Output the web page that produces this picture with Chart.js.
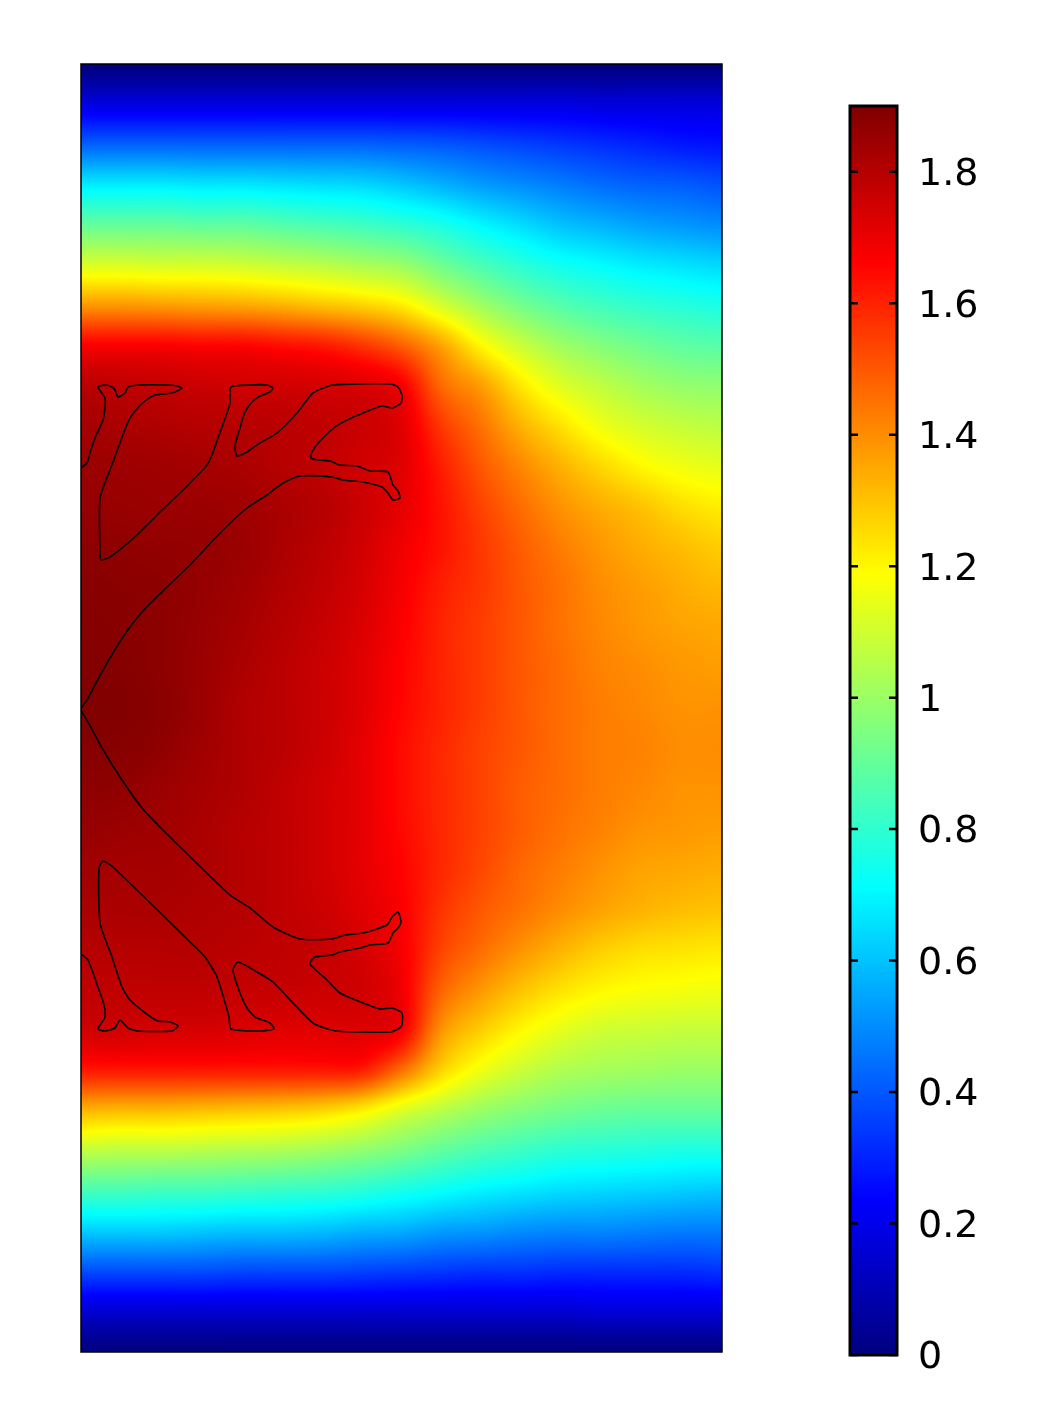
<!DOCTYPE html>
<html lang="en">
<head>
    <meta charset="UTF-8">
    <title>Field plot</title>
    <script src="https://cdnjs.cloudflare.com/ajax/libs/Chart.js/4.4.1/chart.umd.min.js"></script>
    <style>
        body { margin: 0; background: #ffffff; overflow: hidden; }
        canvas { position: absolute; top: 0; }
        #fieldChart { left: 0; }
        #barChart { left: 800px; }
    </style>
</head>
<body>
    <canvas id="fieldChart" width="800" height="1417"></canvas>
    <canvas id="barChart" width="263" height="1417"></canvas>

    <script>
        // sample positions of the field (picture units, y counted from the top)
        const gridX = [0, 40, 80, 120, 160, 200, 240, 280, 320, 360, 400, 440, 480, 520, 560, 600, 641];
        const gridY = [0, 40, 81, 121, 161, 201, 241, 282, 322, 362, 402, 443, 483, 523, 563, 604, 644,
            684, 724, 765, 805, 845, 885, 926, 966, 1006, 1046, 1087, 1127, 1167, 1207, 1248, 1288];

        // values, one row per gridY
        const fieldValues = [
            [0, 0, 0, 0, 0, 0, 0, 0, 0, 0, 0, 0, 0, 0, 0, 0, 0],
            [.18, .18, .18, .18, .18, .18, .18, .18, .18, .18, .18, .18, .18, .17, .17, .17, .17],
            [.42, .42, .42, .42, .42, .42, .42, .42, .41, .40, .38, .36, .34, .32, .30, .28, .27],
            [.68, .68, .68, .67, .67, .66, .65, .64, .61, .57, .53, .50, .47, .44, .42, .41, .39],
            [.90, .90, .90, .89, .89, .87, .85, .83, .80, .76, .70, .65, .60, .57, .54, .52, .50],
            [1.12, 1.12, 1.11, 1.11, 1.10, 1.08, 1.06, 1.03, 1.0, .92, .85, .79, .74, .71, .68, .66, .64],
            [1.38, 1.38, 1.37, 1.36, 1.35, 1.33, 1.30, 1.27, 1.22, 1.11, 1.01, .93, .87, .83, .80, .78, .76],
            [1.67, 1.67, 1.67, 1.66, 1.66, 1.64, 1.62, 1.57, 1.49, 1.36, 1.20, 1.09, 1.01, .96, .92, .89, .875],
            [1.79, 1.78, 1.77, 1.76, 1.75, 1.75, 1.74, 1.73, 1.68, 1.47, 1.37, 1.23, 1.13, 1.07, 1.02, .99, .98],
            [1.83, 1.82, 1.81, 1.80, 1.80, 1.79, 1.78, 1.76, 1.72, 1.56, 1.45, 1.33, 1.24, 1.16, 1.11, 1.08, 1.06],
            [1.85, 1.845, 1.84, 1.83, 1.82, 1.80, 1.78, 1.75, 1.72, 1.61, 1.50, 1.41, 1.33, 1.26, 1.20, 1.16, 1.14],
            [1.86, 1.855, 1.85, 1.85, 1.84, 1.82, 1.80, 1.76, 1.71, 1.63, 1.54, 1.46, 1.39, 1.34, 1.30, 1.25, 1.22],
            [1.875, 1.87, 1.865, 1.86, 1.85, 1.82, 1.79, 1.75, 1.69, 1.63, 1.56, 1.49, 1.43, 1.38, 1.34, 1.31, 1.28],
            [1.885, 1.88, 1.875, 1.86, 1.84, 1.81, 1.78, 1.74, 1.68, 1.61, 1.56, 1.50, 1.45, 1.40, 1.37, 1.34, 1.32],
            [1.89, 1.885, 1.875, 1.855, 1.83, 1.80, 1.77, 1.73, 1.67, 1.60, 1.55, 1.50, 1.45, 1.41, 1.38, 1.36, 1.35],
            [1.895, 1.89, 1.875, 1.85, 1.82, 1.79, 1.76, 1.72, 1.66, 1.60, 1.55, 1.50, 1.46, 1.42, 1.40, 1.38, 1.37],
            [1.90, 1.895, 1.88, 1.85, 1.81, 1.79, 1.76, 1.72, 1.655, 1.60, 1.55, 1.50, 1.46, 1.43, 1.41, 1.39, 1.39],
            [1.89, 1.885, 1.87, 1.84, 1.81, 1.79, 1.76, 1.71, 1.645, 1.59, 1.54, 1.50, 1.46, 1.43, 1.42, 1.40, 1.40],
            [1.875, 1.87, 1.85, 1.83, 1.81, 1.78, 1.75, 1.71, 1.645, 1.59, 1.54, 1.49, 1.46, 1.43, 1.41, 1.39, 1.39],
            [1.86, 1.85, 1.84, 1.82, 1.80, 1.78, 1.75, 1.71, 1.65, 1.59, 1.54, 1.49, 1.45, 1.42, 1.39, 1.38, 1.37],
            [1.84, 1.83, 1.83, 1.82, 1.80, 1.78, 1.75, 1.71, 1.66, 1.59, 1.53, 1.47, 1.43, 1.39, 1.36, 1.35, 1.34],
            [1.82, 1.82, 1.82, 1.81, 1.80, 1.78, 1.76, 1.72, 1.67, 1.57, 1.50, 1.45, 1.40, 1.36, 1.33, 1.31, 1.30],
            [1.80, 1.80, 1.80, 1.80, 1.79, 1.78, 1.77, 1.74, 1.68, 1.54, 1.46, 1.39, 1.33, 1.28, 1.25, 1.24, 1.23],
            [1.78, 1.78, 1.78, 1.78, 1.77, 1.77, 1.76, 1.75, 1.69, 1.48, 1.38, 1.30, 1.24, 1.20, 1.18, 1.17, 1.16],
            [1.75, 1.75, 1.74, 1.74, 1.73, 1.72, 1.72, 1.72, 1.68, 1.39, 1.28, 1.20, 1.14, 1.10, 1.09, 1.08, 1.08],
            [1.62, 1.62, 1.62, 1.62, 1.62, 1.62, 1.62, 1.61, 1.46, 1.27, 1.16, 1.09, 1.04, 1.02, 1.01, 1.0, 1.0],
            [1.33, 1.32, 1.32, 1.31, 1.30, 1.29, 1.27, 1.22, 1.13, 1.06, 1.0, .96, .93, .91, .90, .90, .90],
            [1.07, 1.06, 1.06, 1.05, 1.04, 1.03, 1.01, .98, .94, .89, .85, .82, .79, .78, .77, .76, .76],
            [.84, .84, .83, .83, .82, .81, .80, .78, .75, .72, .69, .67, .65, .64, .63, .62, .61],
            [.62, .62, .62, .61, .60, .60, .59, .57, .56, .53, .52, .50, .49, .49, .48, .47, .47],
            [.38, .38, .38, .38, .37, .37, .37, .36, .35, .34, .33, .33, .32, .32, .32, .32, .33],
            [.15, .15, .15, .15, .15, .15, .15, .15, .15, .15, .15, .15, .15, .16, .16, .16, .16],
            [0, 0, 0, 0, 0, 0, 0, 0, 0, 0, 0, 0, 0, 0, 0, 0, 0]
        ];

        // outline of the shape, same units as the grid
        const outlineX = [0, 6, 9, 14, 22, 24, 24, 17, 24, 31, 34, 37, 44, 47, 59, 86, 96, 101, 94, 84, 74, 64, 54, 47, 39, 29, 19, 19, 20, 29, 42, 56, 79, 102, 126, 131, 137, 146, 149, 150, 169, 186, 192, 189, 179, 171, 164, 159, 154, 156, 166, 179, 196, 216, 232, 252, 309, 317, 321, 320, 311, 301, 282, 264, 254, 239, 231, 230, 237, 249, 259, 276, 289, 307, 312, 317, 319, 312, 307, 301, 282, 262, 251, 219, 202, 186, 166, 139, 109, 86, 61, 42, 22, 6, 0,
            7, 21, 39, 61, 89, 149, 169, 192, 219, 251, 264, 282, 306, 311, 317, 320, 317, 312, 307, 289, 279, 259, 251, 234, 229, 246, 259, 282, 299, 311, 321, 321, 317, 309, 256, 232, 192, 176, 157, 152, 159, 166, 174, 189, 193, 179, 150, 148, 136, 124, 109, 32, 22, 18, 19, 31, 41, 49, 67, 77, 89, 97, 91, 56, 47, 39, 34, 24, 17, 24, 23, 17, 7, 0];
        const outlineY = [404, 399, 389, 374, 356, 343, 334, 323, 321, 323, 326, 333, 329, 323, 321, 321, 322, 324, 328, 330, 331, 337, 347, 358, 379, 406, 434, 489, 496, 493, 483, 471, 448, 426, 401, 391, 374, 349, 339, 323, 321, 321, 324, 328, 332, 338, 348, 364, 382, 392, 388, 379, 369, 349, 329, 321, 320, 323, 331, 339, 344, 342, 349, 357, 363, 377, 388, 394, 396, 397, 401, 402, 407, 408, 421, 427, 434, 436, 429, 423, 418, 416, 413, 412, 419, 431, 444, 469, 501, 523, 548, 573, 606, 636, 645,
            658, 684, 713, 744, 773, 831, 844, 863, 875, 875, 871, 869, 861, 853, 848, 858, 864, 869, 879, 881, 884, 888, 891, 893, 900, 916, 929, 939, 945, 944, 949, 961, 965, 968, 967, 959, 918, 908, 898, 906, 929, 944, 953, 959, 965, 967, 965, 953, 913, 893, 878, 803, 797, 804, 859, 893, 923, 936, 951, 957, 958, 962, 967, 967, 964, 956, 964, 967, 965, 953, 941, 923, 896, 890];

        // colour scale
        const stopValues = [0, 0.2375, 0.7125, 1.1875, 1.6625, 1.9];
        const stopColors = [[0, 0, 128], [0, 0, 255], [0, 255, 255], [255, 255, 0], [255, 0, 0], [128, 0, 0]];
        const barRange = [0, 1.9];
        const barTicks = [0, 0.2, 0.4, 0.6, 0.8, 1, 1.2, 1.4, 1.6, 1.8];

        function colorFor(v) {
            let i = 0;
            while (i < stopValues.length - 2 && v > stopValues[i + 1]) i++;
            const t = Math.min(1, Math.max(0, (v - stopValues[i]) / (stopValues[i + 1] - stopValues[i])));
            const a = stopColors[i], b = stopColors[i + 1];
            return [a[0] + (b[0] - a[0]) * t, a[1] + (b[1] - a[1]) * t, a[2] + (b[2] - a[2]) * t];
        }

        function findCell(list, value) {
            let i = 0;
            while (i < list.length - 2 && value > list[i + 1]) i++;
            return [i, Math.min(1, Math.max(0, (value - list[i]) / (list[i + 1] - list[i])))];
        }

        // Catmull-Rom weights, so the shading has no kinks at the sample lines
        function cubicWeights(t) {
            return [
                -0.5 * t * t * t + t * t - 0.5 * t,
                1.5 * t * t * t - 2.5 * t * t + 1,
                -1.5 * t * t * t + 2 * t * t + 0.5 * t,
                0.5 * t * t * t - 0.5 * t * t
            ];
        }

        function clampIndex(i, n) {
            return Math.min(n - 1, Math.max(0, i));
        }

        // paints the samples of the field dataset as a smooth image, placed by the scales
        const fieldPlugin = {
            id: 'fieldPlugin',
            beforeDatasetsDraw(chart) {
                const area = chart.chartArea;
                const xs = chart.scales.x, ys = chart.scales.y;
                const left = Math.round(area.left), top = Math.round(area.top);
                const w = Math.round(area.width), h = Math.round(area.height);
                const img = chart.ctx.createImageData(w, h);
                for (let py = 0; py < h; py++) {
                    const [r, ty] = findCell(gridY, ys.getValueForPixel(top + py + 0.5));
                    const wy = cubicWeights(ty);
                    for (let px = 0; px < w; px++) {
                        const [c, tx] = findCell(gridX, xs.getValueForPixel(left + px + 0.5));
                        const wx = cubicWeights(tx);
                        let v = 0;
                        for (let a = 0; a < 4; a++) {
                            const row = fieldValues[clampIndex(r - 1 + a, gridY.length)];
                            for (let b = 0; b < 4; b++) {
                                v += wy[a] * wx[b] * row[clampIndex(c - 1 + b, gridX.length)];
                            }
                        }
                        const rgb = colorFor(v);
                        const k = (py * w + px) * 4;
                        img.data[k] = rgb[0];
                        img.data[k + 1] = rgb[1];
                        img.data[k + 2] = rgb[2];
                        img.data[k + 3] = 255;
                    }
                }
                chart.ctx.putImageData(img, left, top);
            },
            afterDatasetsDraw(chart) {
                const area = chart.chartArea, ctx = chart.ctx;
                ctx.save();
                ctx.strokeStyle = '#000000';
                ctx.lineWidth = 1.5;
                ctx.strokeRect(area.left, area.top, area.width, area.height);
                ctx.restore();
            }
        };

        // frame, inward tick marks and labels of the colour bar
        const barFramePlugin = {
            id: 'barFramePlugin',
            afterDatasetsDraw(chart) {
                const area = chart.chartArea, ctx = chart.ctx, y = chart.scales.y;
                ctx.save();
                ctx.strokeStyle = '#000000';
                ctx.lineWidth = 2.5;
                ctx.beginPath();
                y.ticks.forEach(t => {
                    const py = y.getPixelForValue(t.value);
                    ctx.moveTo(area.left, py);
                    ctx.lineTo(area.left + 8, py);
                    ctx.moveTo(area.right, py);
                    ctx.lineTo(area.right - 8, py);
                });
                ctx.stroke();
                ctx.lineWidth = 3;
                ctx.strokeRect(area.left, area.top, area.width, area.height);
                ctx.fillStyle = '#000000';
                ctx.font = '38px "DejaVu Sans"';
                ctx.textBaseline = 'middle';
                y.ticks.forEach(t => {
                    ctx.fillText(String(t.value), area.right + 21, y.getPixelForValue(t.value) + 3.5);
                });
                ctx.restore();
            }
        };

        const fieldPoints = [];
        gridY.forEach((y, r) => gridX.forEach((x, c) => fieldPoints.push({ x: x, y: y, v: fieldValues[r][c] })));

        new Chart(document.getElementById('fieldChart'), {
            type: 'scatter',
            plugins: [fieldPlugin],
            data: {
                datasets: [{
                    label: 'field',
                    data: fieldPoints,
                    pointRadius: 0,
                    showLine: false
                }, {
                    label: 'outline',
                    data: outlineX.map((x, i) => ({ x: x, y: outlineY[i] })),
                    showLine: true,
                    borderColor: '#000000',
                    borderWidth: 1.6,
                    pointRadius: 0,
                    tension: 0.2
                }]
            },
            options: {
                responsive: false,
                animation: false,
                events: [],
                layout: { padding: { left: 81, right: 78, top: 64, bottom: 65 } },
                plugins: { legend: { display: false }, tooltip: { enabled: false } },
                scales: {
                    x: { type: 'linear', min: 0, max: 641, display: false },
                    y: { type: 'linear', min: 0, max: 1288, reverse: true, display: false }
                }
            }
        });

        new Chart(document.getElementById('barChart'), {
            type: 'bar',
            plugins: [barFramePlugin],
            data: {
                labels: ['scale'],
                datasets: [{
                    data: [barRange],
                    barPercentage: 1,
                    categoryPercentage: 1,
                    borderWidth: 0,
                    backgroundColor(context) {
                        const chart = context.chart;
                        if (!chart.chartArea) return '#000000';
                        const y = chart.scales.y;
                        const grad = chart.ctx.createLinearGradient(0, y.getPixelForValue(barRange[0]), 0, y.getPixelForValue(barRange[1]));
                        stopValues.forEach((v, i) => {
                            grad.addColorStop((v - barRange[0]) / (barRange[1] - barRange[0]), 'rgb(' + stopColors[i].join(',') + ')');
                        });
                        return grad;
                    }
                }]
            },
            options: {
                responsive: false,
                animation: false,
                events: [],
                layout: { padding: { left: 50, right: 0, top: 106, bottom: 62 } },
                plugins: { legend: { display: false }, tooltip: { enabled: false } },
                scales: {
                    x: { display: false },
                    y: {
                        position: 'right',
                        min: barRange[0],
                        max: barRange[1],
                        grid: { display: false, drawTicks: false },
                        border: { display: false },
                        afterBuildTicks(scale) { scale.ticks = barTicks.map(v => ({ value: v })); },
                        afterFit(scale) { scale.width = 166; },
                        ticks: { display: false }
                    }
                }
            }
        });
    </script>
</body>
</html>
